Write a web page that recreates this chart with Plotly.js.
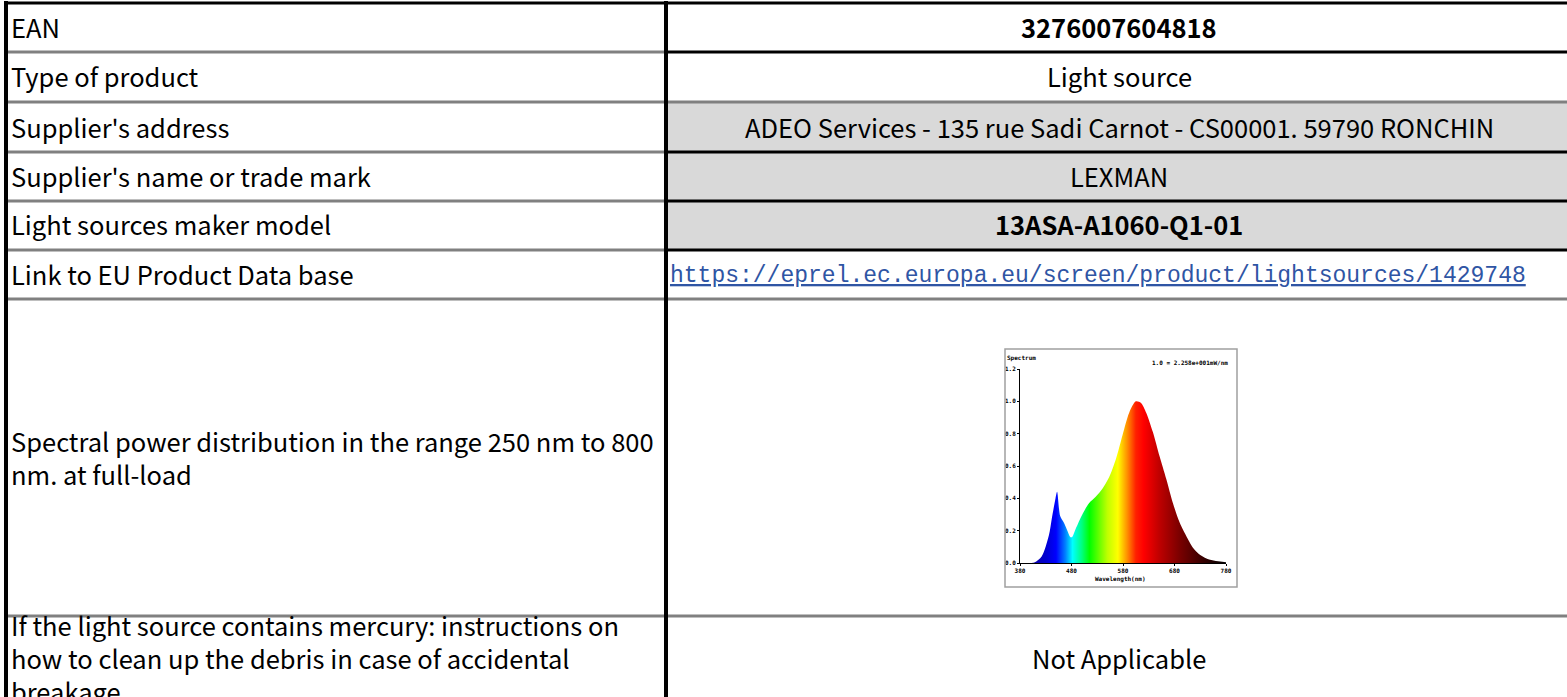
<!DOCTYPE html>
<html>
<head>
<meta charset="utf-8">
<script src="https://cdn.plot.ly/plotly-3.0.1.min.js"></script>
<style>html,body{margin:0;padding:0;background:#fff;}#chart{width:1567px;height:697px;}</style>
</head>
<body>
<div id="chart"></div>
<script>
// ---- table content ----
const rowLabels = [
  "EAN",
  "Type of product",
  "Supplier's address",
  "Supplier's name or trade mark",
  "Light sources maker model",
  "Link to EU Product Data base",
  "Spectral power distribution in the range 250 nm to 800<br>nm. at full-load",
  "If the light source contains mercury: instructions on<br>how to clean up the debris in case of accidental<br>breakage"
];
const rowValues = [
  "3276007604818",
  "Light source",
  "ADEO Services - 135 rue Sadi Carnot - CS00001. 59790 RONCHIN",
  "LEXMAN",
  "13ASA-A1060-Q1-01",
  "https://eprel.ec.europa.eu/screen/product/lightsources/1429748",
  "",
  "Not Applicable"
];
const boldValues = [true, false, false, false, true, false, false, false];
const shadedValues = [false, false, true, true, true, false, false, false];

// ---- spectrum data (relative power vs wavelength, nm) ----
const wavelength = [380, 395, 409, 422, 436, 442, 449, 452, 458, 465, 472, 478, 481, 488, 501, 514, 527, 540, 553, 566, 579, 592, 605, 615, 625, 638, 651, 664, 677, 690, 704, 717, 730, 749, 780];
const relPower   = [0.0, 0.0, 0.005, 0.04, 0.17, 0.28, 0.40, 0.44, 0.29, 0.25, 0.20, 0.16, 0.16, 0.21, 0.30, 0.37, 0.41, 0.46, 0.53, 0.64, 0.79, 0.93, 1.0, 0.99, 0.93, 0.81, 0.66, 0.52, 0.37, 0.25, 0.16, 0.09, 0.05, 0.02, 0.005];
const xTicks = [380, 480, 580, 680, 780];
const yTicks = [0.0, 0.2, 0.4, 0.6, 0.8, 1.0, 1.2];

// ---- geometry (pixels) ----
const W = 1567, H = 697;
const px = v => v / W;
const py = v => 1 - v / H;
const rowEdges = [3, 52, 102, 152, 201, 250, 299, 616, 760];
const colL = 6, colM = 666, colR = W;
const rightLineBlack = [true, true, false, true, true, true, false, false, false];

const shapes = [];
rowValues.forEach((v, i) => {
  if (shadedValues[i]) {
    shapes.push({type: 'rect', xref: 'paper', yref: 'paper', layer: 'below',
      x0: px(colM), x1: px(colR), y0: py(rowEdges[i]), y1: py(rowEdges[i + 1]),
      fillcolor: '#d9d9d9', line: {width: 0}});
  }
});
rowEdges.forEach((e, i) => {
  if (e > H) return;
  const leftCol = i === 0 ? '#000000' : '#808080';
  const rightCol = rightLineBlack[i] ? '#000000' : '#808080';
  shapes.push({type: 'line', xref: 'paper', yref: 'paper', x0: px(colL), x1: px(colM), y0: py(e), y1: py(e),
    line: {color: leftCol, width: 3}});
  shapes.push({type: 'line', xref: 'paper', yref: 'paper', x0: px(colM), x1: px(colR), y0: py(e), y1: py(e),
    line: {color: rightCol, width: 3}});
});
[colL, colM].forEach(x => {
  shapes.push({type: 'line', xref: 'paper', yref: 'paper', x0: px(x), x1: px(x), y0: py(1), y1: py(H),
    line: {color: '#000000', width: 4}});
});
shapes.push({type: 'rect', xref: 'paper', yref: 'paper', x0: px(1005), x1: px(1237), y0: py(349), y1: py(587),
  line: {color: '#a0a0a0', width: 1.5}, fillcolor: 'rgba(0,0,0,0)'});

const annotations = [];
const tableFont = {family: 'Noto Sans CJK SC, Open Sans, sans-serif', size: 25.5, color: '#000'};
const labelY = [27, 76, 126, 175, 224, 274, 457, 657];
rowLabels.forEach((lab, i) => {
  annotations.push({xref: 'paper', yref: 'paper', x: px(9), y: py(labelY[i]), xanchor: 'left', yanchor: 'middle',
    align: 'left', text: lab, showarrow: false, font: tableFont});
});
const valueY = [27, 76, 126, 175, 224, 276, 0, 657];
rowValues.forEach((v, i) => {
  if (!v) return;
  let txt = boldValues[i] ? '<b>' + v + '</b>' : v;
  let font = Object.assign({}, tableFont);
  let xc = 1119;
  if (v.startsWith('http')) {
    txt = '<u>' + v + '</u>';
    font = {family: 'Liberation Mono, DejaVu Sans Mono, monospace', size: 23, color: '#2f55a4'};
    xc = 1098;
  }
  annotations.push({xref: 'paper', yref: 'paper', x: px(xc), y: py(valueY[i]), xanchor: 'center', yanchor: 'middle',
    text: txt, showarrow: false, font: font});
});
const smallFont = {family: 'DejaVu Sans Mono, monospace', size: 6, color: '#000', weight: 'bold'};
annotations.push({xref: 'paper', yref: 'paper', x: px(1005), y: py(358), xanchor: 'left', yanchor: 'middle',
  text: 'Spectrum', showarrow: false, font: smallFont});
annotations.push({xref: 'paper', yref: 'paper', x: px(1230), y: py(363), xanchor: 'right', yanchor: 'middle',
  text: '1.0 = 2.258e+001mW/nm', showarrow: false, font: smallFont});
annotations.push({xref: 'paper', yref: 'paper', x: px(1120), y: py(579), xanchor: 'center', yanchor: 'middle',
  text: 'Wavelength(nm)', showarrow: false, font: smallFont});

const spectrumColors = [
  [0.0, '#1a0080'], [0.125, '#0000d0'], [0.175, '#0000ff'], [0.22, '#0080ff'], [0.255, '#00ffff'],
  [0.30, '#00ff80'], [0.3375, '#00ff00'], [0.425, '#c0ff00'], [0.475, '#ffff00'], [0.52, '#ff9000'],
  [0.5625, '#ff2000'], [0.60, '#ff0000'], [0.675, '#c00000'], [0.775, '#7a0000'], [0.90, '#300000'], [1.0, '#000000']
];

const trace = {
  type: 'scatter', mode: 'lines', x: wavelength, y: relPower,
  line: {shape: 'spline', smoothing: 0.8, width: 0, color: 'rgba(0,0,0,0)'},
  fill: 'tozeroy',
  fillgradient: {type: 'horizontal', colorscale: spectrumColors, start: 380, stop: 780},
  hoverinfo: 'skip', showlegend: false
};

const layout = {
  width: W, height: H,
  margin: {l: 0, r: 0, t: 0, b: 0},
  paper_bgcolor: '#ffffff', plot_bgcolor: '#ffffff',
  showlegend: false,
  xaxis: {domain: [px(1020), px(1226)], range: [380, 780], tickvals: xTicks, ticktext: xTicks.map(String),
    showline: true, linecolor: '#000', linewidth: 1, ticks: 'outside', ticklen: 2, tickcolor: '#000',
    showgrid: false, zeroline: false, tickfont: smallFont, fixedrange: true},
  yaxis: {domain: [1 - 563 / H, 1 - 369 / H], range: [0, 1.2], tickvals: yTicks, ticktext: yTicks.map(v => v.toFixed(1)),
    showline: true, linecolor: '#000', linewidth: 1, ticks: 'outside', ticklen: 2, tickcolor: '#000',
    showgrid: false, zeroline: false, tickfont: smallFont, fixedrange: true},
  shapes: shapes,
  annotations: annotations
};

Plotly.newPlot('chart', [trace], layout, {displayModeBar: false, staticPlot: true});
</script>
</body>
</html>
